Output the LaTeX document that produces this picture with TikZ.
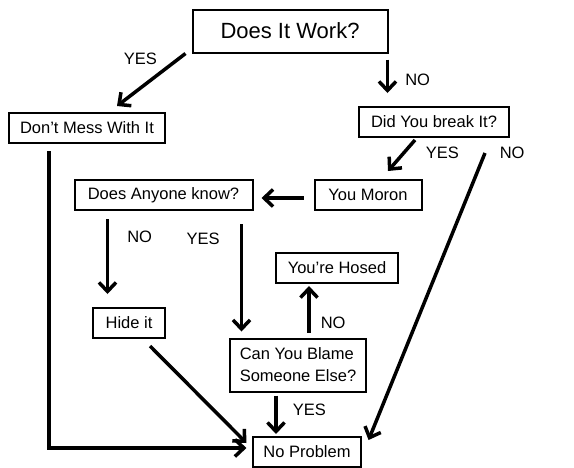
\documentclass[tikz,border=0pt]{standalone}
\usepackage{fontspec}
\setmainfont{Liberation Sans}
\usetikzlibrary{arrows.meta, positioning}

\begin{document}
\begin{tikzpicture}[
		x=1pt, y=-1pt,
		box/.style={draw, line width=2pt, inner xsep=10pt, minimum height=30pt, font=\fontsize{16.5}{22}\selectfont},
		arr/.style={line width=3.5pt, -{Straight Barb[length=9pt,width=17pt,line width=3.5pt]}},
		lbl/.style={font=\fontsize{16.5}{20}\selectfont, inner sep=0pt}
		]
		\useasboundingbox (0,0) rectangle (574,467);
		
		% Kutije
		\node[box, minimum width=195pt, minimum height=43pt, font=\fontsize{22}{26}\selectfont] (work) at (290,31) {Does It Work?};
		\node[box, minimum width=156pt] (dontmess) at (87,128) {Don’t Mess With It};
		\node[box, minimum width=150pt] (didbreak) at (434,122) {Did You break It?};
		\node[box, minimum width=107pt] (moron) at (368,195) {You Moron};
		\node[box, left=60pt of moron, minimum width=178pt] (anyone) {Does Anyone know?};
		\node[box, minimum width=122pt] (hosed) at (337,268) {You’re Hosed};
		\node[box, minimum width=72pt] (hide) at (129,323) {Hide it};
		\node[box, minimum width=134pt, minimum height=53pt, align=left] (blame) at (298,365) {Can You Blame\\Someone Else?};
		\node[box, minimum width=106pt] (noproblem) at (307,452) {No Problem};
		
		% Grane
		\draw[arr] ([xshift=-6pt]work.south west) -- ([xshift=30pt,yshift=6pt]dontmess.north)
			node[lbl, pos=0.1, left=20pt] {YES};
		\draw[arr, shorten <=6pt, shorten >=13pt] ([xshift=-1pt]work.south east) -- ([xshift=-1pt]work.south east |- didbreak.north)
			node[lbl, midway, right=16pt] {NO};
		\draw[arr] ([xshift=-19pt,yshift=-2pt]didbreak.south) -- ([xshift=20pt,yshift=8pt]moron.north)
			node[lbl, pos=0.4, right=20pt] {YES};
		\draw[arr] ([xshift=51pt,yshift=-15pt]didbreak.south) -- ([xshift=7pt,yshift=12pt]noproblem.east)
			node[lbl, pos=0, right=13pt] {NO};
		\draw[arr, shorten <=10pt, shorten >=8pt] ([yshift=-3pt]moron.west) -- ([yshift=-3pt]anyone.east);
		\draw[arr, shorten <=8pt, shorten >=13pt] ([xshift=-56pt]anyone.south) -- ([xshift=-56pt]anyone.south |- hide.north)
			node[lbl, pos=0.27, right=18pt] {NO};
		\draw[arr, shorten <=13pt, shorten >=6pt] ([xshift=78pt]anyone.south) -- ([xshift=78pt]anyone.south |- blame.north)
			node[lbl, pos=0.22, left=20pt] {YES};
		\draw[arr, shorten <=5pt, shorten >=2pt] ([xshift=11pt]blame.north) -- ([xshift=11pt]blame.north |- hosed.south)
			node[lbl, pos=0.27, right=10pt] {NO};
		\draw[arr] ([xshift=21pt,yshift=-7pt]hide.south) -- ([xshift=-6pt,yshift=-7pt]noproblem.north west);
		\draw[arr, shorten <=3pt, shorten >=2pt] ([xshift=-22pt]blame.south) -- ([xshift=-22pt]blame.south |- noproblem.north)
			node[lbl, pos=0.4, right=15pt] {YES};
		\draw[arr, shorten <=7pt, shorten >=6pt] ([xshift=-38pt]dontmess.south) |- ([yshift=4pt]noproblem.west);
		
	\end{tikzpicture}
\end{document}
